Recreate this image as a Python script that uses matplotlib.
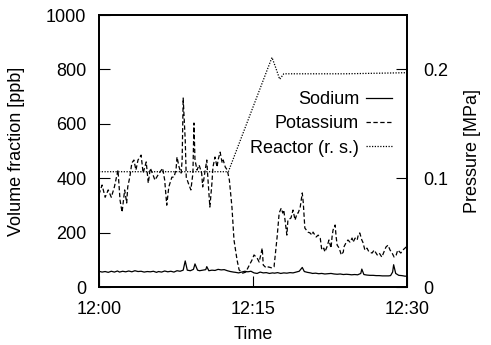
import matplotlib
matplotlib.use("Agg")
import matplotlib.pyplot as plt

plt.rcParams['font.family'] = ['Liberation Sans', 'DejaVu Sans']

# time in minutes after 12:00
sodium_t = [0, 0.3, 0.6, 0.9, 1.2, 1.5, 1.8, 2.0, 2.3, 2.6, 2.9, 3.2, 3.5, 3.8, 4.1,
            4.4, 4.7, 5.0, 5.3, 5.6, 5.8, 6.1, 6.4, 6.7, 7.0, 7.3, 7.6, 7.9, 8.2, 8.4,
            8.6, 8.9, 9.2, 9.35, 9.6, 9.8, 10.1, 10.4, 10.5, 10.7, 11.0, 11.3, 11.6,
            11.9, 12.2, 12.5, 12.8, 13.1, 13.3, 13.6, 13.9, 14.2, 14.5, 14.8, 15.1,
            15.4, 15.7, 16.0, 16.3, 16.6, 16.9, 17.1, 17.4, 17.7, 18.0, 18.3, 18.6,
            18.9, 19.2, 19.5, 19.8, 20.0, 20.3, 20.6, 20.8, 21.1, 21.4, 21.7, 22.0,
            22.3, 22.6, 22.9, 23.2, 23.5, 23.8, 24.1, 24.4, 24.6, 24.9, 25.2, 25.5,
            25.6, 25.8, 26.1, 26.4, 26.7, 27.0, 27.3, 27.6, 27.9, 28.2, 28.4, 28.6,
            28.7, 28.9, 29.2, 29.5, 29.8, 30.0]
sodium = [58, 55, 57, 54, 58, 55, 59, 55, 58, 56, 59, 56, 60, 57, 58,
          55, 57, 56, 58, 54, 57, 55, 59, 56, 58, 55, 60, 58, 62, 96,
          62, 60, 65, 85, 62, 60, 62, 64, 75, 60, 62, 61, 65,
          63, 64, 60, 57, 55, 54, 52, 55, 58, 56, 58, 52,
          50, 55, 52, 53, 50, 52, 51, 53, 50, 52, 51, 53,
          52, 55, 58, 72, 57, 54, 52, 50, 51, 49, 50, 48,
          49, 50, 48, 47, 48, 46, 47, 46, 45, 46, 45, 50,
          66, 46, 44, 43, 43, 42, 42, 41, 41, 41, 42, 55,
          82, 50, 43, 42, 40, 40]

potassium_t = [0.0, 0.3, 0.6, 0.9, 1.2, 1.5, 1.85, 2.05, 2.25, 2.5, 2.7, 2.8, 3.0, 3.2,
               3.4, 3.6, 3.8, 4.1, 4.3, 4.6, 4.8, 5.0, 5.2, 5.45, 5.75, 5.95, 6.2, 6.4,
               6.6, 6.8, 7.1, 7.3, 7.5, 7.6, 7.8, 8.0, 8.1, 8.2, 8.4, 8.5, 8.7, 8.95,
               9.15, 9.25, 9.35, 9.55, 9.75, 10.0, 10.1, 10.3, 10.5, 10.6, 10.8, 11.0,
               11.1, 11.3, 11.5, 11.6, 11.8, 12.0, 12.1, 12.3, 12.5, 12.7, 12.95, 13.15,
               13.45, 13.65, 14.0, 14.3, 14.5, 14.9, 15.1, 15.4, 15.6, 15.9, 16.0, 16.3,
               16.5, 16.85, 17.05, 17.35, 17.55, 17.75, 17.9, 18.0, 18.3, 18.4, 18.7,
               18.9, 19.1, 19.3, 19.4, 19.6, 19.8, 19.9, 20.05, 20.35, 20.55, 20.75,
               20.85, 21.15, 21.35, 21.55, 21.7, 21.9, 22.0, 22.2, 22.4, 22.6, 22.7,
               22.8, 23.0, 23.1, 23.2, 23.4, 23.6, 23.8, 23.85, 24.05, 24.25, 24.45,
               24.65, 24.75, 24.95, 25.15, 25.25, 25.4, 25.6, 25.7, 25.9, 26.1, 26.3,
               26.6, 26.8, 27.1, 27.3, 27.55, 27.75, 27.95, 28.15, 28.35, 28.55, 28.75,
               28.95, 29.1, 29.4, 29.6, 29.8, 30.0]
potassium = [340, 375, 330, 357, 330, 368, 430, 320, 275, 357, 309, 368, 404, 456,
             467, 430, 467, 485, 419, 460, 382, 437, 419, 393, 412, 423, 437, 393,
             301, 368, 404, 404, 430, 478, 441, 419, 467, 695, 540, 404, 382, 357,
             419, 603, 467, 430, 449, 419, 368, 419, 467, 404, 294, 382,
             441, 478, 441, 467, 496, 456, 467, 441, 430, 393, 294, 173,
             99, 63, 51, 55, 70, 99, 118, 107, 92, 143, 81, 70,
             74, 70, 74, 184, 272, 290, 272, 283, 191, 246, 254,
             283, 246, 272, 272, 294, 346, 309, 217, 202, 199, 191,
             202, 184, 191, 180, 136, 143, 129, 147, 173, 143, 184,
             210, 228, 184, 154, 143, 118, 129, 147, 162, 173, 165,
             180, 165, 180, 173, 191, 199, 173, 165, 136, 143, 129,
             125, 136, 118, 125, 110, 129, 147, 154, 136, 125, 110,
             118, 136, 125, 136, 143, 150]

reactor_t = [0, 12.6, 16.4, 16.85, 17.2, 17.6, 18.0, 24.0, 30.0]
reactor = [0.106, 0.106, 0.200, 0.211, 0.202, 0.191, 0.196, 0.196, 0.197]

fig = plt.figure(figsize=(4.91, 3.45), dpi=100)
ax = fig.add_axes([0.2016, 0.168, 0.6273, 0.7884])
ax2 = ax.twinx()

l1, = ax.plot(sodium_t, sodium, color='black', lw=0.9, label='Sodium')
l2, = ax.plot(potassium_t, potassium, color='black', lw=0.9, ls=(0, (3.5, 2)), label='Potassium')
l3, = ax2.plot(reactor_t, reactor, color='black', lw=0.9, ls=(0, (1, 1.2)), label='Reactor (r. s.)')

ax.set_xlim(0, 30)
ax.set_ylim(0, 1000)
ax2.set_ylim(0, 0.25)

ax.set_xticks([0, 15, 30])
ax.set_xticklabels(['12:00', '12:15', '12:30'])
ax.set_yticks([0, 200, 400, 600, 800, 1000])
ax2.set_yticks([0, 0.1, 0.2])
ax2.set_yticklabels(['0', '0.1', '0.2'])

ax.tick_params(axis='both', direction='in', length=8, width=0.8, labelsize=13, right=False, top=False)
ax.tick_params(axis='y', pad=9)
ax.tick_params(axis='x', pad=10)
ax2.tick_params(axis='y', direction='in', length=8, width=0.8, labelsize=13, pad=12)

for a in (ax, ax2):
    for s in a.spines.values():
        s.set_linewidth(1.3)

ax.set_xlabel('Time', fontsize=13, labelpad=6)
ax.set_ylabel('Volume fraction [ppb]', fontsize=13, labelpad=15)
ax2.set_ylabel('Pressure [MPa]', fontsize=13, labelpad=11)

ax2.legend(handles=[l1, l2, l3], loc='upper right', bbox_to_anchor=(0.95, 0.72),
           frameon=False, markerfirst=False, fontsize=13, handlelength=1.4,
           handletextpad=0.4, labelspacing=0.4, borderpad=0, borderaxespad=0)

fig.savefig('out.png', dpi=100)
